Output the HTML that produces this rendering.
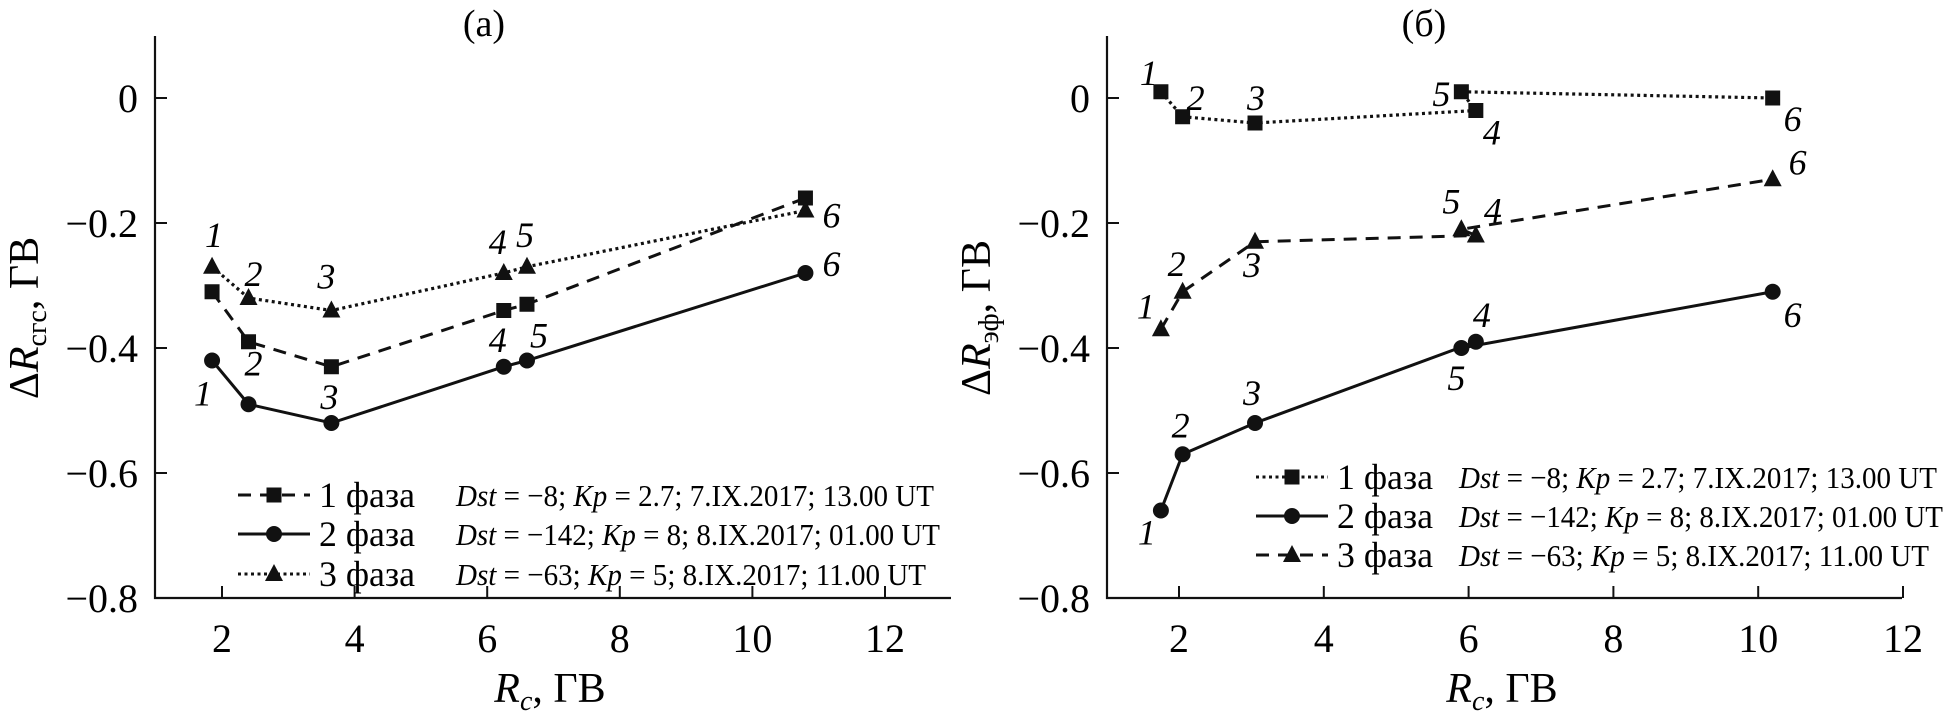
<!DOCTYPE html>
<html><head><meta charset="utf-8"><style>
html,body{margin:0;padding:0;background:#fff;}
svg{display:block;}
svg text{font-family:"Liberation Serif","Times New Roman",serif;}
</style></head><body>
<svg id="fig" width="1945" height="716" viewBox="0 0 1945 716" font-family="Liberation Serif, serif" xmlns="http://www.w3.org/2000/svg"></svg>
<script>
// ---------- data ----------
const ticksX = [2,4,6,8,10,12];
const ticksY = [0,-0.2,-0.4,-0.6,-0.8];
const tickYLabels = ["0","\u22120.2","\u22120.4","\u22120.6","\u22120.8"];
const pointLabels = ["1","2","3","4","5","6"];
const phaseNames = ["1 фаза","2 фаза","3 фаза"];

const aX = [1.85,2.4,3.65,6.25,6.6,10.8];
const aPhase1 = [-0.31,-0.39,-0.43,-0.34,-0.33,-0.16];
const aPhase2 = [-0.42,-0.49,-0.52,-0.43,-0.42,-0.28];
const aPhase3 = [-0.27,-0.32,-0.34,-0.28,-0.27,-0.18];

const bX = [1.75,2.05,3.05,6.1,5.9,10.2];
const bPhase1 = [0.01,-0.03,-0.04,-0.02,0.01,0];
const bPhase2 = [-0.66,-0.57,-0.52,-0.39,-0.40,-0.31];
const bPhase3 = [-0.37,-0.31,-0.23,-0.22,-0.21,-0.13];

// ---------- helpers ----------
const NS="http://www.w3.org/2000/svg";
const svg=document.getElementById('fig');
function mk(tag,attrs,parent){const e=document.createElementNS(NS,tag);for(const k in attrs)e.setAttribute(k,attrs[k]);if(tag==='text')e.setAttribute('font-family','Liberation Serif, serif');(parent||svg).appendChild(e);return e;}
const styles={
 solid:"",
 dashed:"13,9",
 dotted:"3,3.5"
};
function marker(g,type,x,y){
  let m;
  if(type==='square'){m=mk('rect',{x:x-7.5,y:y-7.5,width:15,height:15,fill:'#111'},g);}
  else if(type==='circle'){m=mk('circle',{cx:x,cy:y,r:8,fill:'#111'},g);}
  else {m=mk('polygon',{points:`${x},${y-10} ${x+9},${y+7} ${x-9},${y+7}`,fill:'#111'},g);}
  
  
  return m;
}

function panel(cfg){
  const g=mk('g',{});
  
  
  const X=v=>cfg.x0+(v-2)*cfg.ux;
  const Y=v=>98-v*625;
  const ax=mk('path',{d:`M${cfg.axX},36 L${cfg.axX},${Y(-0.8)} L${cfg.axEnd},${Y(-0.8)}`,stroke:'#111','stroke-width':2.2,fill:'none'},g);
  
  
  ticksY.forEach((t,i)=>{
    mk('line',{x1:cfg.axX,x2:cfg.axX+12,y1:Y(t),y2:Y(t),stroke:'#111','stroke-width':2},g);
    const tl=mk('text',{x:cfg.axX-17,y:Y(t)+14,'text-anchor':'end','font-size':40},g);
    tl.textContent=tickYLabels[i];
    
    
  });
  ticksX.forEach(t=>{
    mk('line',{x1:X(t),x2:X(t),y1:Y(-0.8),y2:Y(-0.8)-12,stroke:'#111','stroke-width':2},g);
    const tl=mk('text',{x:X(t),y:652,'text-anchor':'middle','font-size':40},g);
    tl.textContent=String(t);
    
    
  });
  const ti=mk('text',{x:cfg.titleX,y:36,'text-anchor':'middle','font-size':38},g);
  ti.textContent=cfg.title;
  
  
  const xt=mk('text',{x:cfg.xTitleX,y:702,'text-anchor':'middle','font-size':42},g);
  xt.innerHTML='<tspan font-style="italic">R</tspan><tspan font-style="italic" font-size="28" dy="8">c</tspan><tspan dy="-8">, ГВ</tspan>';
  
  
  const yt=mk('text',{x:0,y:0,'text-anchor':'middle','font-size':42,transform:`translate(${cfg.yTitleX},318) rotate(-90)`},g);
  yt.innerHTML=`Δ<tspan font-style="italic">R</tspan><tspan font-size="28" dy="8">${cfg.sub}</tspan><tspan dy="-8">, ГВ</tspan>`;
  
  
  cfg.series.forEach(s=>{
    const sg=mk('g',{},g);
    
    
    const pts=s.y.map((v,i)=>`${X(cfg.xs[i])},${Y(v)}`).join(' ');
    const pl=mk('polyline',{points:pts,fill:'none',stroke:'#111','stroke-width':s.style==='dotted'?3.2:3,'stroke-dasharray':styles[s.style]},sg);
    
    
    s.y.forEach((v,i)=>marker(sg,s.marker,X(cfg.xs[i]),Y(v)));
    if(s.lab){
      s.y.forEach((v,i)=>{
        const t=mk('text',{x:X(cfg.xs[i])+s.lab[i][0],y:Y(v)+s.lab[i][1]+12,'text-anchor':'middle','font-size':36,'font-style':'italic'},sg);
        t.textContent=pointLabels[i];
        
        
      });
    }
  });
  const lg=mk('g',{},g);
  
  
  cfg.legend.forEach((l,i)=>{
    const y=cfg.legY[i];
    const eg=mk('g',{},lg);
    
    
    mk('line',{x1:cfg.legX,x2:cfg.legX+72,y1:y,y2:y,stroke:'#111','stroke-width':3,'stroke-dasharray':styles[l.style]},eg);
    marker(eg,l.marker,cfg.legX+36,y);
    const t=mk('text',{x:cfg.legX+81,y:y+12,'font-size':36,textLength:96,lengthAdjust:'spacingAndGlyphs'},eg);
    t.textContent=phaseNames[i];
    const d=mk('text',{x:cfg.descX,y:y+11,'font-size':31,textLength:l.w,lengthAdjust:'spacingAndGlyphs'},eg);
    d.innerHTML=l.desc;
  });
}

const descs=[
 '<tspan font-style="italic">Dst</tspan> = −8; <tspan font-style="italic">Kp</tspan> = 2.7; 7.IX.2017; 13.00 UT',
 '<tspan font-style="italic">Dst</tspan> = −142; <tspan font-style="italic">Kp</tspan> = 8; 8.IX.2017; 01.00 UT',
 '<tspan font-style="italic">Dst</tspan> = −63; <tspan font-style="italic">Kp</tspan> = 5; 8.IX.2017; 11.00 UT'
];

panel({name:'panel-a',x0:222,ux:66.3,axX:155,axEnd:951,title:'(а)',titleX:484,xTitleX:550,yTitleX:38,sub:'сгс',xs:aX,
 series:[
  {name:'series-phase-1',y:aPhase1,style:'dashed',marker:'square'},
  {name:'series-phase-2',y:aPhase2,style:'solid',marker:'circle',lab:[[-9,33],[5,-41],[-2,-26],[-6,-27],[12,-25],[26,-9]]},
  {name:'series-phase-3',y:aPhase3,style:'dotted',marker:'triangle',lab:[[2,-32],[5,-24],[-5,-34],[-6,-31],[-2,-32],[26,5]]}
 ],
 legX:238,descX:456,legY:[495,534,574],
 legend:[{style:'dashed',marker:'square',desc:descs[0],w:478},{style:'solid',marker:'circle',desc:descs[1],w:484},{style:'dotted',marker:'triangle',desc:descs[2],w:470}]
});

panel({name:'panel-b',x0:1179,ux:72.4,axX:1107,axEnd:1902,title:'(б)',titleX:1424,xTitleX:1502,yTitleX:990,sub:'эф',xs:bX,
 series:[
  {name:'series-phase-1',y:bPhase1,style:'dotted',marker:'square',lab:[[-12,-19],[13,-19],[1,-25],[16,22],[-20,2],[20,21]]},
  {name:'series-phase-2',y:bPhase2,style:'solid',marker:'circle',lab:[[-14,22],[-2,-29],[-3,-30],[6,-27],[-5,30],[20,23]]},
  {name:'series-phase-3',y:bPhase3,style:'dashed',marker:'triangle',lab:[[-15,-23],[-6,-28],[-3,23],[17,-25],[-10,-28],[25,-17]]}
 ],
 legX:1256,descX:1459,legY:[477,516,555],
 legend:[{style:'dotted',marker:'square',desc:descs[0],w:478},{style:'solid',marker:'circle',desc:descs[1],w:484},{style:'dashed',marker:'triangle',desc:descs[2],w:470}]
});
</script>
</body></html>
